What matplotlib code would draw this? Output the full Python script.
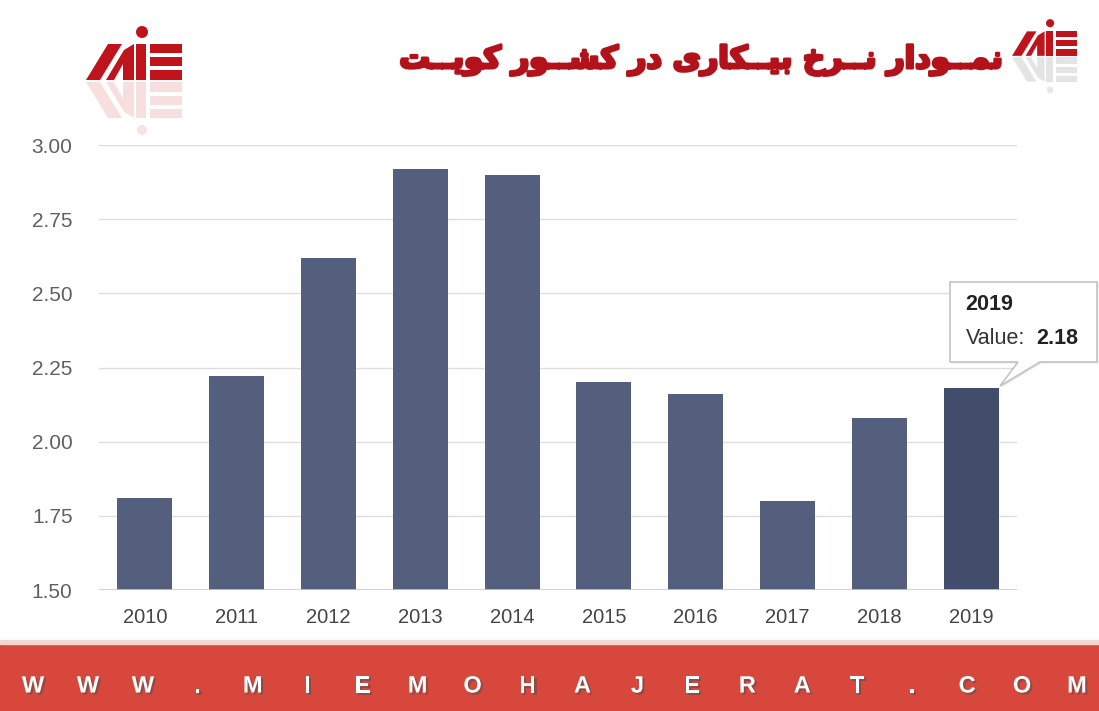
import matplotlib
matplotlib.use("Agg")
import matplotlib.pyplot as plt
import matplotlib.patheffects as pe
from matplotlib.patches import Polygon, Rectangle, Circle

years = ["2010", "2011", "2012", "2013", "2014", "2015", "2016", "2017", "2018", "2019"]
rates = [1.81, 2.22, 2.62, 2.92, 2.90, 2.20, 2.16, 1.80, 2.08, 2.18]
yticks = [1.50, 1.75, 2.00, 2.25, 2.50, 2.75, 3.00]
title = "نمــودار نــرخ بیــکاری در کشــور کویــت"
site = "WWW.MIEMOHAJERAT.COM"
hover_year = "2019"
hover_value = "2.18"

# arabic letters -> (isolated, final, initial, medial); matplotlib does no shaping
forms = {
    "ن": ("\ufee5", "\ufee6", "\ufee7", "\ufee8"),
    "م": ("\ufee1", "\ufee2", "\ufee3", "\ufee4"),
    "و": ("\ufeed", "\ufeee", None, None),
    "د": ("\ufea9", "\ufeaa", None, None),
    "ا": ("\ufe8d", "\ufe8e", None, None),
    "ر": ("\ufead", "\ufeae", None, None),
    "خ": ("\ufea5", "\ufea6", "\ufea7", "\ufea8"),
    "ب": ("\ufe8f", "\ufe90", "\ufe91", "\ufe92"),
    "ی": ("\ufbfc", "\ufbfd", "\ufbfe", "\ufbff"),
    "ک": ("\ufb8e", "\ufb8f", "\ufb90", "\ufb91"),
    "ش": ("\ufeb5", "\ufeb6", "\ufeb7", "\ufeb8"),
    "ت": ("\ufe95", "\ufe96", "\ufe97", "\ufe98"),
}


def joins_next(c):
    return c == "ـ" or (c in forms and forms[c][2] is not None)


def shape(s):
    out = []
    for i, c in enumerate(s):
        if c not in forms:
            out.append(c)
            continue
        prev = s[i - 1] if i > 0 else " "
        nxt = s[i + 1] if i + 1 < len(s) else " "
        a = joins_next(prev)
        b = joins_next(c) and (nxt in forms or nxt == "ـ")
        f = forms[c]
        if a and b:
            out.append(f[3])
        elif a:
            out.append(f[1])
        elif b:
            out.append(f[2])
        else:
            out.append(f[0])
    return "".join(out)[::-1]


plt.rcParams["font.family"] = ["Liberation Sans", "DejaVu Sans"]

fig = plt.figure(figsize=(10.99, 7.11), dpi=100)
ax = fig.add_axes([99 / 1099, 1 - 590 / 711, 918 / 1099, 445 / 711])

x = range(len(years))
colors = ["#535f7c"] * len(years)
colors[-1] = "#414d6a"
ax.bar(x, rates, width=0.6, bottom=0, color=colors, zorder=2)
ax.set_ylim(1.5, 3.0)
ax.set_xlim(-0.5, len(years) - 0.5)
ax.set_yticks(yticks)
ax.set_yticklabels([f"{v:.2f}" for v in yticks], color="#606060", fontsize=15)
ax.set_xticks(list(x))
ax.set_xticklabels(years, color="#454545", fontsize=14.5)
ax.tick_params(axis="y", length=0, pad=19)
ax.tick_params(axis="x", length=0, pad=13)
ax.grid(axis="y", color="#dddddd", linewidth=1, zorder=0)
for s in ax.spines.values():
    s.set_visible(False)
ax.axhline(1.5, color="#c8c8c8", linewidth=1.2, zorder=3)

# overlay in pixel coordinates for banner, logos, title, tooltip
ov = fig.add_axes([0, 0, 1, 1], zorder=5)
ov.set_xlim(0, 1099)
ov.set_ylim(711, 0)
ov.axis("off")
ov.patch.set_alpha(0)

ov.add_patch(Rectangle((0, 644), 1099, 67, color="#d8473b"))
ov.add_patch(Rectangle((0, 640), 1099, 4, color="#f2d6d2"))
step = (1077 - 33) / (len(site) - 1)
for i, ch in enumerate(site):
    ov.text(33 + i * step, 686, ch, color="white", fontsize=17, fontweight="bold",
            ha="center", va="center",
            path_effects=[pe.withSimplePatchShadow(offset=(1.5, -1.5), alpha=0.5)])


def logo(x0, y0, s, color, refl):
    def P(pts, c, a=1.0):
        ov.add_patch(Polygon([(x0 + px * s, y0 + py * s) for px, py in pts],
                             closed=True, color=c, alpha=a, lw=0))
    shapes = [
        [(0, 38), (22, 2), (36, 2), (14, 38)],
        [(20, 38), (38, 8), (48, 2), (48, 38), (37, 38), (37, 22), (28, 38)],
        [(50, 2), (60, 2), (60, 38), (50, 38)],
        [(64, 2), (96, 2), (96, 11), (64, 11)],
        [(64, 15), (96, 15), (96, 24), (64, 24)],
        [(64, 28), (96, 28), (96, 38), (64, 38)],
    ]
    for sh in shapes:
        P(sh, color)
        P([(px, 78 - py) for px, py in sh], refl, 0.22)
    ov.add_patch(Circle((x0 + 56 * s, y0 - 10 * s), 6 * s, color=color, lw=0))
    ov.add_patch(Circle((x0 + 56 * s, y0 + 88 * s), 5 * s, color=refl, alpha=0.2, lw=0))


logo(86, 42, 1.0, "#c0141c", "#e07070")
logo(1012, 30, 0.68, "#c0141c", "#888888")

ov.text(1003, 60, shape(title), color="#b3121b", fontsize=22, fontweight="bold",
        ha="right", va="center", family="DejaVu Sans",
        path_effects=[pe.withStroke(linewidth=2.2, foreground="#b3121b")])

# tooltip for the hovered 2019 bar
tip = [(950, 282), (1097, 282), (1097, 362), (1040, 362), (1000, 386),
       (1018, 362), (950, 362)]
ov.add_patch(Polygon(tip, closed=True, facecolor="white", edgecolor="#c4c4c4",
                     lw=1.2, path_effects=[pe.withSimplePatchShadow(offset=(1, -1), alpha=0.15)]))
ov.text(965, 304, hover_year, fontsize=15.5, fontweight="bold", color="#222222", va="center")
ov.text(966, 338, "Value:", fontsize=15.5, color="#333333", va="center")
ov.text(1036, 338, hover_value, fontsize=15.5, fontweight="bold", color="#222222", va="center")

fig.savefig("out.png", dpi=100)
